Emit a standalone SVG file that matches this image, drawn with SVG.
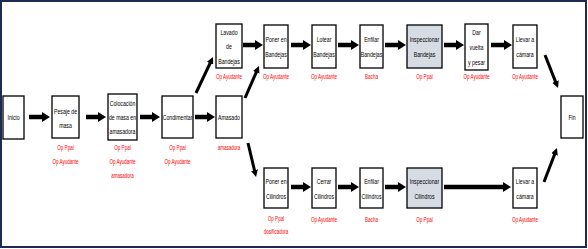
<svg xmlns="http://www.w3.org/2000/svg" width="588" height="249" viewBox="0 0 588 249">
<style>
.box{fill:#fff;stroke:#000;stroke-width:1.3}
.gray{fill:#d7dce4}
.t{font-family:"Liberation Sans",Arial,sans-serif;font-size:8px;fill:#000;text-anchor:middle}
.r{font-family:"Liberation Sans",Arial,sans-serif;font-size:7px;fill:#ff0000;text-anchor:middle}
.h{stroke:#000;stroke-width:4.5;fill:none}
.d{stroke:#000;stroke-width:3;fill:none}
</style>
<defs>
<marker id="big" markerUnits="userSpaceOnUse" markerWidth="8" markerHeight="10" viewBox="0 0 8 10" refX="2" refY="5" orient="auto">
<path d="M0,0 L8,5 L0,10 z" fill="#000"/>
</marker>
<marker id="small" markerUnits="userSpaceOnUse" markerWidth="7" markerHeight="7" viewBox="0 0 7 7" refX="2" refY="3.5" orient="auto">
<path d="M0,0 L7,3.5 L0,7 z" fill="#000"/>
</marker>
</defs>
<rect x="0" y="0" width="588" height="249" fill="#fff"/>
<rect x="1" y="1" width="585" height="246" fill="#fff" stroke="#1c2b4f" stroke-width="2"/>

<g id="connectors">
<line class="h" x1="29" y1="117" x2="44" y2="117" marker-end="url(#big)"/>
<line class="h" x1="86" y1="117" x2="100" y2="117" marker-end="url(#big)"/>
<line class="h" x1="140" y1="117" x2="154" y2="117" marker-end="url(#big)"/>
<line class="h" x1="195" y1="117" x2="209" y2="117" marker-end="url(#big)"/>
<line class="h" x1="243" y1="45" x2="257" y2="45" marker-end="url(#big)"/>
<line class="h" x1="291" y1="45" x2="305" y2="45" marker-end="url(#big)"/>
<line class="h" x1="338" y1="45" x2="353" y2="45" marker-end="url(#big)"/>
<line class="h" x1="385" y1="45" x2="400" y2="45" marker-end="url(#big)"/>
<line class="h" x1="444" y1="45" x2="458" y2="45" marker-end="url(#big)"/>
<line class="h" x1="491" y1="45" x2="506" y2="45" marker-end="url(#big)"/>
<line class="h" x1="291" y1="187" x2="305" y2="187" marker-end="url(#big)"/>
<line class="h" x1="338" y1="187" x2="353" y2="187" marker-end="url(#big)"/>
<line class="h" x1="385" y1="187" x2="400" y2="187" marker-end="url(#big)"/>
<line class="h" x1="444" y1="187" x2="505" y2="187" marker-end="url(#big)"/>
<line class="d" x1="196" y1="93" x2="210.9" y2="61.5" marker-end="url(#small)"/>
<line class="d" x1="245" y1="98" x2="257" y2="70.6" marker-end="url(#small)"/>
<line class="d" x1="248" y1="143" x2="254.9" y2="172.1" marker-end="url(#small)"/>
<line class="d" x1="545" y1="55" x2="556.2" y2="83.4" marker-end="url(#small)"/>
<line class="d" x1="544" y1="182" x2="555.2" y2="152.7" marker-end="url(#small)"/>
</g>

<g id="inicio">
<rect class="box" x="3" y="96" width="21" height="43"/>
<text class="t" transform="translate(13.5,119.8) scale(0.65,1)" x="0" y="0">Inicio</text>
</g>
<g id="pesaje">
<rect class="box" x="52" y="96" width="27" height="42"/>
<text class="t" transform="translate(65.5,0) scale(0.65,1)"><tspan x="0" y="113.8">Pesaje de</tspan><tspan x="0" y="128.3">masa</tspan></text>
<text class="r" transform="translate(65.5,0) scale(0.65,1)"><tspan x="0" y="150.5">Op Ppal</tspan><tspan x="0" y="164.5">Op Ayudante</tspan></text>
</g>
<g id="colocacion">
<rect class="box" x="108" y="94" width="29" height="46"/>
<text class="t" transform="translate(122.5,0) scale(0.65,1)"><tspan x="0" y="105.8">Colocación</tspan><tspan x="0" y="119.8">de masa en</tspan><tspan x="0" y="133.8">amasadora</tspan></text>
<text class="r" transform="translate(122.5,0) scale(0.65,1)"><tspan x="0" y="150.5">Op Ppal</tspan><tspan x="0" y="164.5">Op Ayudante</tspan><tspan x="0" y="178.5">amasadora</tspan></text>
</g>
<g id="condimentar">
<rect class="box" x="162" y="96" width="31" height="42"/>
<text class="t" transform="translate(177.5,119.8) scale(0.65,1)" x="0" y="0">Condimentar</text>
<text class="r" transform="translate(177.5,0) scale(0.65,1)"><tspan x="0" y="150.5">Op Ppal</tspan><tspan x="0" y="164.5">Op Ayudante</tspan></text>
</g>
<g id="amasado">
<rect class="box" x="216" y="96" width="26" height="42"/>
<text class="t" transform="translate(229,119.8) scale(0.65,1)" x="0" y="0">Amasado</text>
<text class="r" transform="translate(229,149.5) scale(0.65,1)" x="0" y="0">amasadora</text>
</g>
<g id="lavado">
<rect class="box" x="216" y="24" width="26" height="44"/>
<text class="t" transform="translate(229,0) scale(0.65,1)"><tspan x="0" y="34.8">Lavado</tspan><tspan x="0" y="49.3">de</tspan><tspan x="0" y="63.8">Bandejas</tspan></text>
<text class="r" transform="translate(229,78.5) scale(0.65,1)" x="0" y="0">Op Ayudante</text>
</g>
<g id="poner-bandejas">
<rect class="box" x="264" y="25" width="24" height="43"/>
<text class="t" transform="translate(276,0) scale(0.65,1)"><tspan x="0" y="42.3">Poner en</tspan><tspan x="0" y="56.8">Bandejas</tspan></text>
<text class="r" transform="translate(276,78.5) scale(0.65,1)" x="0" y="0">Op Ayudante</text>
</g>
<g id="lotear">
<rect class="box" x="312" y="25" width="24" height="43"/>
<text class="t" transform="translate(324,0) scale(0.65,1)"><tspan x="0" y="42.3">Lotear</tspan><tspan x="0" y="56.8">Bandejas</tspan></text>
<text class="r" transform="translate(324,78.5) scale(0.65,1)" x="0" y="0">Op Ayudante</text>
</g>
<g id="enfilar-bandejas">
<rect class="box" x="360" y="25" width="23" height="43"/>
<text class="t" transform="translate(371.5,0) scale(0.65,1)"><tspan x="0" y="42.3">Enfilar</tspan><tspan x="0" y="56.8">Bandejas</tspan></text>
<text class="r" transform="translate(371.5,78.5) scale(0.65,1)" x="0" y="0">Bacha</text>
</g>
<g id="inspeccionar-bandejas">
<rect class="box gray" x="407" y="25" width="35" height="43"/>
<text class="t" transform="translate(424.5,0) scale(0.65,1)"><tspan x="0" y="42.3">Inspeccionar</tspan><tspan x="0" y="56.8">Bandejas</tspan></text>
<text class="r" transform="translate(424.5,78.5) scale(0.65,1)" x="0" y="0">Op Ppal</text>
</g>
<g id="dar-vuelta">
<rect class="box" x="465" y="24" width="23" height="46"/>
<text class="t" transform="translate(476.5,0) scale(0.65,1)"><tspan x="0" y="34.8">Dar</tspan><tspan x="0" y="49.8">vuelta</tspan><tspan x="0" y="64.8">y pesar</tspan></text>
<text class="r" transform="translate(476.5,78.5) scale(0.65,1)" x="0" y="0">Op Ayudante</text>
</g>
<g id="llevar-bandejas">
<rect class="box" x="513" y="25" width="24" height="43"/>
<text class="t" transform="translate(525,0) scale(0.65,1)"><tspan x="0" y="42.3">Llevar a</tspan><tspan x="0" y="56.8">cámara</tspan></text>
<text class="r" transform="translate(525,78.5) scale(0.65,1)" x="0" y="0">Op Ayudante</text>
</g>
<g id="poner-cilindros">
<rect class="box" x="264" y="168" width="24" height="40"/>
<text class="t" transform="translate(276,0) scale(0.65,1)"><tspan x="0" y="184.3">Poner en</tspan><tspan x="0" y="198.8">Cilindros</tspan></text>
<text class="r" transform="translate(276,0) scale(0.65,1)"><tspan x="0" y="221.5">Op Ppal</tspan><tspan x="0" y="234.5">dosificadora</tspan></text>
</g>
<g id="cerrar">
<rect class="box" x="312" y="168" width="24" height="40"/>
<text class="t" transform="translate(324,0) scale(0.65,1)"><tspan x="0" y="184.3">Cerrar</tspan><tspan x="0" y="198.8">Cilindros</tspan></text>
<text class="r" transform="translate(324,221.5) scale(0.65,1)" x="0" y="0">Op Ayudante</text>
</g>
<g id="enfilar-cilindros">
<rect class="box" x="360" y="168" width="23" height="40"/>
<text class="t" transform="translate(371.5,0) scale(0.65,1)"><tspan x="0" y="184.3">Enfilar</tspan><tspan x="0" y="198.8">Cilindros</tspan></text>
<text class="r" transform="translate(371.5,221.5) scale(0.65,1)" x="0" y="0">Bacha</text>
</g>
<g id="inspeccionar-cilindros">
<rect class="box gray" x="407" y="168" width="35" height="40"/>
<text class="t" transform="translate(424.5,0) scale(0.65,1)"><tspan x="0" y="184.3">Inspeccionar</tspan><tspan x="0" y="198.8">Cilindros</tspan></text>
<text class="r" transform="translate(424.5,221.5) scale(0.65,1)" x="0" y="0">Op Ppal</text>
</g>
<g id="llevar-cilindros">
<rect class="box" x="513" y="168" width="24" height="40"/>
<text class="t" transform="translate(525,0) scale(0.65,1)"><tspan x="0" y="184.3">Llevar a</tspan><tspan x="0" y="198.8">cámara</tspan></text>
<text class="r" transform="translate(525,221.5) scale(0.65,1)" x="0" y="0">Op Ayudante</text>
</g>
<g id="fin">
<rect class="box" x="561" y="96" width="22" height="42"/>
<text class="t" transform="translate(572,119.8) scale(0.65,1)" x="0" y="0">Fin</text>
</g>
</svg>
